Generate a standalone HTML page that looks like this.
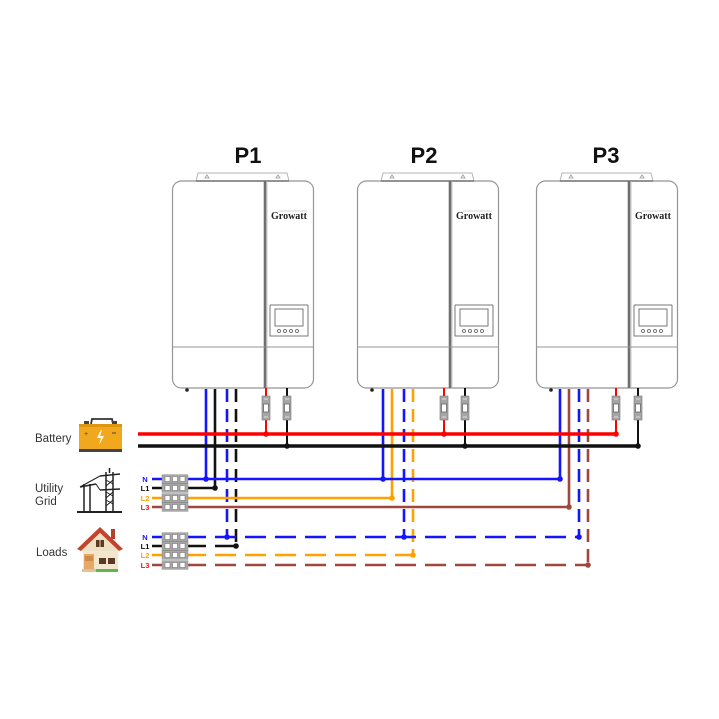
<!DOCTYPE html>
<html><head><meta charset="utf-8"><style>
html,body{margin:0;padding:0;background:#fff;}
svg{display:block;}
</style></head><body>
<svg width="719" height="719" viewBox="0 0 719 719" xmlns="http://www.w3.org/2000/svg" font-family="Liberation Sans, sans-serif">
<rect width="719" height="719" fill="#fff"/>

<!-- Titles -->
<text x="248" y="163" font-size="22" font-weight="bold" text-anchor="middle" fill="#111">P1</text>
<text x="424" y="163" font-size="22" font-weight="bold" text-anchor="middle" fill="#111">P2</text>
<text x="606" y="163" font-size="22" font-weight="bold" text-anchor="middle" fill="#111">P3</text>

<defs>
  <g id="inv">
    <path d="M24,8 L26,0 L115,0 L117,8" fill="#fff" stroke="#b5b5b5" stroke-width="1"/>
    <path d="M33,5 l2,-3 l2,3 z M104,5 l2,-3 l2,3 z" fill="none" stroke="#999" stroke-width="0.8"/>
    <rect x="0.5" y="8" width="141" height="207" rx="9" fill="#fff" stroke="#959595" stroke-width="1.2"/>
    <line x1="24" y1="8" x2="117" y2="8" stroke="#777" stroke-width="1.4"/>
    <line x1="93" y1="8" x2="93" y2="215" stroke="#6f6f6f" stroke-width="2.6"/>
    <line x1="95" y1="8" x2="95" y2="215" stroke="#bbb" stroke-width="0.8"/>
    <line x1="0.5" y1="174" x2="141.5" y2="174" stroke="#959595" stroke-width="1"/>
    <text x="117" y="46" font-family="Liberation Serif, serif" font-size="10" font-weight="bold" text-anchor="middle" fill="#222">Growatt</text>
    <line x1="106" y1="38" x2="135" y2="38" stroke="#aaa" stroke-width="0.6"/>
    <path d="M98,132 L98,163 L136,163 L136,132" fill="none" stroke="#777" stroke-width="1"/>
    <path d="M98,132 L136,132" stroke="#777" stroke-width="1"/>
    <rect x="103" y="136" width="28" height="17" fill="#fff" stroke="#777" stroke-width="1"/>
    <circle cx="107" cy="158" r="1.5" fill="none" stroke="#555" stroke-width="0.8"/>
    <circle cx="113" cy="158" r="1.5" fill="none" stroke="#555" stroke-width="0.8"/>
    <circle cx="119" cy="158" r="1.5" fill="none" stroke="#555" stroke-width="0.8"/>
    <circle cx="125" cy="158" r="1.5" fill="none" stroke="#555" stroke-width="0.8"/>
    <circle cx="15" cy="217" r="1.8" fill="#222"/>
  </g>
  <g id="brk">
    <rect x="-4" y="0" width="8" height="24" fill="#a6a6a6" stroke="#777" stroke-width="0.6"/>
    <rect x="-2.5" y="8" width="5" height="8" fill="#fff" stroke="#444" stroke-width="0.6"/>
    <line x1="-2" y1="3" x2="2" y2="3" stroke="#eee" stroke-width="0.8"/>
    <line x1="-2" y1="21" x2="2" y2="21" stroke="#eee" stroke-width="0.8"/>
  </g>
  <g id="tb">
    <rect x="0" y="-4.3" width="26" height="8.6" fill="#a8a8a8" stroke="#888" stroke-width="0.5"/>
    <rect x="3" y="-2.5" width="5" height="5" fill="#fff" stroke="#666" stroke-width="0.5"/>
    <rect x="10.5" y="-2.5" width="5" height="5" fill="#fff" stroke="#666" stroke-width="0.5"/>
    <rect x="18" y="-2.5" width="5" height="5" fill="#fff" stroke="#666" stroke-width="0.5"/>
  </g>
</defs>

<use href="#inv" x="172" y="173"/>
<use href="#inv" x="357" y="173"/>
<use href="#inv" x="536" y="173"/>

<!-- Vertical wires -->
<g fill="none" stroke-width="2.6">
  <line x1="206" y1="389" x2="206" y2="479" stroke="#1414ff"/>
  <line x1="215" y1="389" x2="215" y2="488" stroke="#111"/>
  <line x1="227" y1="389" x2="227" y2="537" stroke="#1414ff" stroke-dasharray="13 7"/>
  <line x1="236" y1="389" x2="236" y2="546" stroke="#111" stroke-dasharray="13 7"/>
  <line x1="383" y1="389" x2="383" y2="479" stroke="#1414ff"/>
  <line x1="392" y1="389" x2="392" y2="498" stroke="#ffa200"/>
  <line x1="404" y1="389" x2="404" y2="537" stroke="#1414ff" stroke-dasharray="13 7"/>
  <line x1="413" y1="389" x2="413" y2="555" stroke="#ffa200" stroke-dasharray="13 7"/>
  <line x1="560" y1="389" x2="560" y2="479" stroke="#1414ff"/>
  <line x1="569" y1="389" x2="569" y2="507" stroke="#a0463c"/>
  <line x1="579" y1="389" x2="579" y2="537" stroke="#1414ff" stroke-dasharray="13 7"/>
  <line x1="588" y1="389" x2="588" y2="565" stroke="#a0463c" stroke-dasharray="13 7"/>
</g>

<!-- Breaker wires -->
<g stroke-width="2">
  <line x1="266" y1="388" x2="266" y2="434" stroke="#ff0000"/>
  <line x1="287" y1="388" x2="287" y2="446" stroke="#111"/>
  <line x1="444" y1="388" x2="444" y2="434" stroke="#ff0000"/>
  <line x1="465" y1="388" x2="465" y2="446" stroke="#111"/>
  <line x1="616" y1="388" x2="616" y2="434" stroke="#ff0000"/>
  <line x1="638" y1="388" x2="638" y2="446" stroke="#111"/>
</g>
<use href="#brk" x="266" y="396"/>
<use href="#brk" x="287" y="396"/>
<use href="#brk" x="444" y="396"/>
<use href="#brk" x="465" y="396"/>
<use href="#brk" x="616" y="396"/>
<use href="#brk" x="638" y="396"/>

<!-- Buses -->
<line x1="138" y1="434" x2="616" y2="434" stroke="#ff0000" stroke-width="3.5"/>
<line x1="138" y1="446" x2="638" y2="446" stroke="#111" stroke-width="3.5"/>
<g fill="#ff0000"><circle cx="266" cy="434" r="2.8"/><circle cx="444" cy="434" r="2.8"/><circle cx="616" cy="434" r="2.8"/></g>
<g fill="#111"><circle cx="287" cy="446" r="2.8"/><circle cx="465" cy="446" r="2.8"/><circle cx="638" cy="446" r="2.8"/></g>

<!-- Horizontal wires -->
<g stroke-width="2.6" fill="none">
  <line x1="152" y1="479" x2="560" y2="479" stroke="#1414ff"/>
  <line x1="152" y1="488" x2="215" y2="488" stroke="#111"/>
  <line x1="152" y1="498" x2="392" y2="498" stroke="#ffa200"/>
  <line x1="152" y1="507" x2="569" y2="507" stroke="#a0463c"/>
  <line x1="152" y1="537" x2="190" y2="537" stroke="#1414ff"/>
  <line x1="152" y1="546" x2="190" y2="546" stroke="#111"/>
  <line x1="152" y1="555" x2="190" y2="555" stroke="#ffa200"/>
  <line x1="152" y1="565" x2="190" y2="565" stroke="#a0463c"/>
  <line x1="189" y1="537" x2="579" y2="537" stroke="#1414ff" stroke-dasharray="21 9" stroke-dashoffset="4"/>
  <line x1="189" y1="546" x2="236" y2="546" stroke="#111" stroke-dasharray="21 9" stroke-dashoffset="4"/>
  <line x1="189" y1="555" x2="413" y2="555" stroke="#ffa200" stroke-dasharray="21 9" stroke-dashoffset="4"/>
  <line x1="189" y1="565" x2="588" y2="565" stroke="#a0463c" stroke-dasharray="21 9" stroke-dashoffset="4"/>
</g>

<!-- Junction dots -->
<g>
  <circle cx="206" cy="479" r="2.8" fill="#1414ff"/>
  <circle cx="215" cy="488" r="2.8" fill="#111"/>
  <circle cx="227" cy="537" r="2.8" fill="#1414ff"/>
  <circle cx="236" cy="546" r="2.8" fill="#111"/>
  <circle cx="383" cy="479" r="2.8" fill="#1414ff"/>
  <circle cx="392" cy="498" r="2.8" fill="#ffa200"/>
  <circle cx="404" cy="537" r="2.8" fill="#1414ff"/>
  <circle cx="413" cy="555" r="2.8" fill="#ffa200"/>
  <circle cx="560" cy="479" r="2.8" fill="#1414ff"/>
  <circle cx="569" cy="507" r="2.8" fill="#a0463c"/>
  <circle cx="579" cy="537" r="2.8" fill="#1414ff"/>
  <circle cx="588" cy="565" r="2.8" fill="#a0463c"/>
</g>

<!-- Terminal blocks -->
<use href="#tb" x="162" y="479"/>
<use href="#tb" x="162" y="488"/>
<use href="#tb" x="162" y="498"/>
<use href="#tb" x="162" y="507"/>
<use href="#tb" x="162" y="537"/>
<use href="#tb" x="162" y="546"/>
<use href="#tb" x="162" y="555"/>
<use href="#tb" x="162" y="565"/>

<g font-size="7.5" font-weight="bold" text-anchor="middle">
  <text x="145" y="482" fill="#1414ff">N</text>
  <text x="145" y="491" fill="#111">L1</text>
  <text x="145" y="501" fill="#ffa200">L2</text>
  <text x="145" y="510" fill="#e02020">L3</text>
  <text x="145" y="540" fill="#1414ff">N</text>
  <text x="145" y="549" fill="#111">L1</text>
  <text x="145" y="558" fill="#ffa200">L2</text>
  <text x="145" y="568" fill="#e02020">L3</text>
</g>

<g font-size="11.5" fill="#333">
  <text x="35" y="442">Battery</text>
  <text x="35" y="492">Utility</text>
  <text x="35" y="505">Grid</text>
  <text x="36" y="556">Loads</text>
</g>

<!-- Battery icon -->
<g>
  <path d="M91,424 L92,419 L112,419 L113,424" fill="none" stroke="#333" stroke-width="1.8"/>
  <rect x="84" y="421" width="5" height="3" fill="#444"/>
  <rect x="112" y="421" width="5" height="3" fill="#444"/>
  <rect x="79" y="424" width="43" height="26" fill="#f2a81d"/>
  <rect x="79" y="424" width="43" height="3" fill="#e09510"/>
  <rect x="79" y="449" width="43" height="3" fill="#444"/>
  <path d="M101,430 L97,438 L101,438 L99,445 L104,436 L100,436 L102,430 z" fill="#fff"/>
  <text x="86" y="436" font-size="7" fill="#444" text-anchor="middle">+</text>
  <line x1="112" y1="433" x2="116" y2="433" stroke="#444" stroke-width="1"/>
</g>

<!-- Utility grid icon -->
<g stroke="#222" fill="none" stroke-width="1.5">
  <line x1="77" y1="512" x2="122" y2="512" stroke-width="2"/>
  <line x1="84" y1="484" x2="84" y2="512"/>
  <line x1="90" y1="484" x2="90" y2="512"/>
  <line x1="80" y1="487" x2="96" y2="484"/>
  <line x1="106" y1="472" x2="106" y2="512"/>
  <line x1="113" y1="472" x2="113" y2="512"/>
  <line x1="109.5" y1="468" x2="109.5" y2="473"/>
  <line x1="100" y1="476" x2="120" y2="474"/>
  <line x1="100" y1="490" x2="120" y2="489"/>
  <path d="M106,480 L113,484 M113,480 L106,486 M106,492 L113,496 M113,492 L106,498 M106,500 L113,504 M113,500 L106,506" stroke-width="1"/>
  <path d="M80,487 L100,476 M96,484 L100,490" stroke-width="1"/>
</g>

<!-- House icon -->
<g>
  <rect x="111" y="529" width="4" height="10" fill="#b4412a"/>
  <rect x="83" y="545" width="35" height="25" fill="#f3e6cf"/>
  <path d="M77,549 L100,527 L123,549 L119,551 L100,533 L81,551 z" fill="#c4432c"/>
  <path d="M81,551 L100,533 L119,551 z" fill="#efe0c4"/>
  <rect x="96" y="540" width="8" height="7" fill="#5a3a22"/>
  <line x1="100" y1="540" x2="100" y2="547" stroke="#e8d7b8" stroke-width="1"/>
  <rect x="84" y="554" width="10" height="16" fill="#e6a865"/>
  <rect x="85" y="556" width="8" height="5" fill="#d18a48"/>
  <rect x="99" y="558" width="7" height="6" fill="#5a3a22"/>
  <rect x="108" y="558" width="7" height="6" fill="#5a3a22"/>
  <rect x="96" y="569" width="22" height="3" fill="#5cb84a"/>
  <rect x="82" y="569" width="14" height="3" fill="#d9c3a0"/>
</g>

</svg>
</body></html>
